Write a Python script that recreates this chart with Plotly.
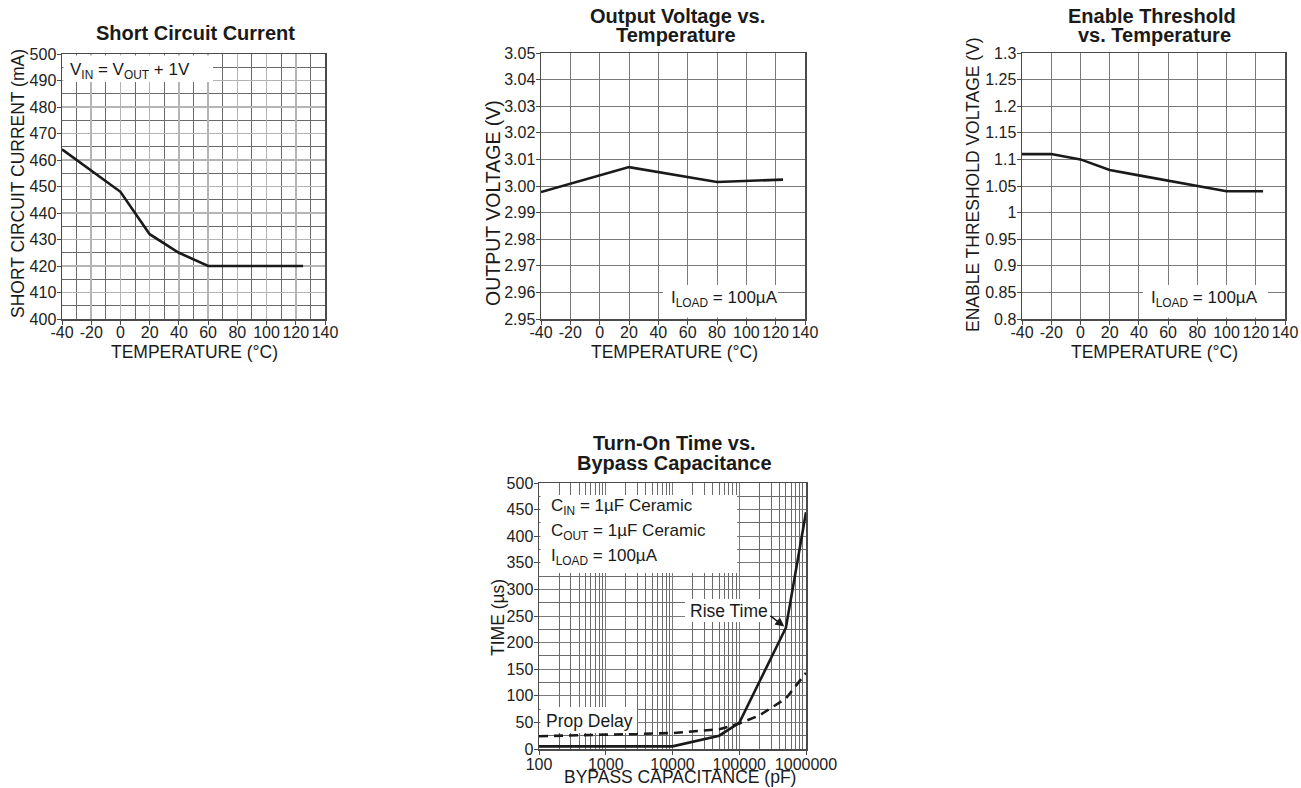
import numpy as np
import plotly.graph_objects as go

OFF = 0
W, H = 1301, 788

# ---------------- data ----------------
sc_temp = [-40, 0, 20, 40, 60, 125]
sc_current = [464, 448, 432, 425, 420, 420]

vo_temp = [-40, 20, 80, 125]
vo_volt = [2.9977, 3.0071, 3.0015, 3.0024]

et_temp = [-40, -20, 0, 20, 40, 60, 80, 100, 125]
et_volt = [1.11, 1.11, 1.10, 1.08, 1.07, 1.06, 1.05, 1.04, 1.04]

rt_cap = [100, 10000, 50000, 100000, 500000, 1000000]
rt_time = [5, 5, 25, 49, 228, 445]

pd_cap = [100, 10000, 50000, 100000, 200000, 500000, 1000000]
pd_time = [24, 30, 37, 48, 63, 95, 143]

temp_ticks = [-40, -20, 0, 20, 40, 60, 80, 100, 120, 140]
temp_labels = ["-40", "-20", "0", "20", "40", "60", "80", "100", "120", "140"]
cap_ticks = [100, 1000, 10000, 100000, 1000000]
cap_labels = ["100", "1000", "10000", "100000", "1000000"]
# ---------------------------------------

FONT = "Liberation Sans, Arial, sans-serif"
INK = "#1a1a1a"


def px(x):
    return (x - OFF) / W


def py(y):
    return 1 - (y - OFF) / H


def base_axis(**kw):
    d = dict(
        showline=True, mirror=True, linecolor="#4a4a4a", linewidth=1.5,
        ticks="outside", ticklen=4, tickcolor="#4a4a4a", tickwidth=1,
        tickfont=dict(size=16, color="#222", family=FONT),
        showgrid=True, gridcolor="#7a7a7a", gridwidth=1,
        zeroline=False, fixedrange=True, tickangle=0, automargin=False,
        ticklabeloverflow="allow",
    )
    d.update(kw)
    return d


fig = go.Figure()
line = dict(color=INK, width=2.6)
fig.add_trace(go.Scatter(x=sc_temp, y=sc_current, mode="lines", line=line, xaxis="x", yaxis="y"))
fig.add_trace(go.Scatter(x=vo_temp, y=vo_volt, mode="lines", line=line, xaxis="x2", yaxis="y2"))
fig.add_trace(go.Scatter(x=et_temp, y=et_volt, mode="lines", line=line, xaxis="x3", yaxis="y3"))
fig.add_trace(go.Scatter(x=rt_cap, y=rt_time, mode="lines", line=line, xaxis="x4", yaxis="y4"))
fig.add_trace(go.Scatter(x=pd_cap, y=pd_time, mode="lines",
                         line=dict(color=INK, width=2.6, dash="9px,6px"), xaxis="x4", yaxis="y4"))

minor_grid = dict(showgrid=True, gridcolor="#6a6a6a", gridwidth=1, ticks="")
log_minor = [m * 10 ** e for e in range(2, 6) for m in range(2, 10)]

temp_x = dict(range=[-40, 140], tickmode="array", tickvals=temp_ticks, ticktext=temp_labels,
              ticklabelstandoff=-6)

fig.update_layout(
    template="none",
    width=W, height=H, margin=dict(l=0, r=0, t=0, b=0, pad=0),
    paper_bgcolor="white", plot_bgcolor="white", showlegend=False,
    font=dict(family=FONT, color=INK),
    xaxis=base_axis(domain=[px(62), px(325)], gridcolor="#b5b5b5", gridwidth=1.5,
                    minor=dict(dtick=10, tick0=-40, **minor_grid), **temp_x),
    yaxis=base_axis(domain=[py(319), py(54)], range=[400, 500], tickmode="linear", tick0=400, dtick=10,
                    gridcolor="#b5b5b5", gridwidth=1.5, ticklabelstandoff=-3,
                    minor=dict(dtick=5, tick0=400, **minor_grid)),
    xaxis2=base_axis(domain=[px(541), px(805)], anchor="y2", **temp_x),
    yaxis2=base_axis(domain=[py(319), py(53)], range=[2.95, 3.05], tickmode="linear", tick0=2.95, dtick=0.01,
                     tickformat=".2f", anchor="x2", ticklabelstandoff=-3),
    xaxis3=base_axis(domain=[px(1022), px(1285)], anchor="y3", **temp_x),
    yaxis3=base_axis(domain=[py(319), py(53)], range=[0.8, 1.3], tickmode="linear", tick0=0.8, dtick=0.05,
                     anchor="x3", ticklabelstandoff=-3),
    xaxis4=base_axis(domain=[px(539), px(806)], type="log", range=[2, 6], tickmode="array",
                     tickvals=cap_ticks, ticktext=cap_labels, anchor="y4", ticklabelstandoff=-4,
                     minor=dict(tickmode="array", tickvals=log_minor, **minor_grid)),
    yaxis4=base_axis(domain=[py(749), py(483)], range=[0, 500], tickmode="linear", tick0=0, dtick=50,
                     anchor="x4", ticklabelstandoff=-3, minor=dict(dtick=25, tick0=0, **minor_grid)),
)

# white label boxes (cover grid)
boxes = [(63.5, 55.5, 213, 82), (663, 285, 778, 317.5), (1143, 285, 1268, 317.5),
         (540.5, 495, 737, 573), (685, 599, 770, 622), (540.5, 707, 637, 733)]
for x0, y0, x1, y1 in boxes:
    fig.add_shape(type="rect", xref="paper", yref="paper", x0=px(x0), x1=px(x1), y0=py(y1), y1=py(y0),
                  fillcolor="white", line=dict(width=0), layer="above")


def txt(x, y, s, size=17.5, bold=False, xanchor="center", angle=0):
    fig.add_annotation(x=px(x), y=py(y), xref="paper", yref="paper", text=("<b>%s</b>" % s) if bold else s,
                       showarrow=False, xanchor=xanchor, yanchor="middle", textangle=angle,
                       font=dict(size=size, color=INK, family=FONT))


# chart titles
txt(195, 33, "Short Circuit Current", 20, True)
txt(677, 16, "Output Voltage vs.", 20, True)
txt(676, 35, "Temperature", 20, True)
txt(1152, 16, "Enable Threshold", 20, True)
txt(1154, 35, "vs. Temperature", 20, True)
txt(674, 443, "Turn-On Time vs.", 20, True)
txt(674, 463, "Bypass Capacitance", 20, True)

# axis titles
txt(194, 352, "TEMPERATURE (°C)", 17.5)
txt(674, 352, "TEMPERATURE (°C)", 17.5)
txt(1154, 352, "TEMPERATURE (°C)", 17.5)
txt(680, 777, "BYPASS CAPACITANCE (pF)", 17.5)
txt(18, 184, "SHORT CIRCUIT CURRENT (mA)", 17.5, angle=-90)
txt(493, 203, "OUTPUT VOLTAGE (V)", 19.5, angle=-90)
txt(973, 185, "ENABLE THRESHOLD VOLTAGE (V)", 17.5, angle=-90)
txt(498, 618, "TIME (µs)", 17.5, angle=-90)

# in-plot labels
txt(68, 71, "V<sub>IN</sub> = V<sub>OUT</sub> + 1V", 17, xanchor="left")
txt(669, 299, "I<sub>LOAD</sub> = 100µA", 17, xanchor="left")
txt(1149, 299, "I<sub>LOAD</sub> = 100µA", 17, xanchor="left")
txt(549, 507, "C<sub>IN</sub> = 1µF Ceramic", 17, xanchor="left")
txt(549, 532, "C<sub>OUT</sub> = 1µF Ceramic", 17, xanchor="left")
txt(549, 557, "I<sub>LOAD</sub> = 100µA", 17, xanchor="left")
txt(688, 611, "Rise Time", 17.5, xanchor="left")
txt(544, 721, "Prop Delay", 17.5, xanchor="left")

# arrow to the rise-time curve
fig.add_annotation(x=np.log10(rt_cap[4]), y=rt_time[4], xref="x4", yref="y4", text="", showarrow=True,
                   ax=-17, ay=-13, arrowhead=2, arrowsize=1.2, arrowwidth=1.5, arrowcolor=INK, standoff=2)

fig.write_html("out.html", config={"displayModeBar": False, "staticPlot": True},
               post_script="document.body.style.margin='0';document.body.style.overflow='hidden';")
